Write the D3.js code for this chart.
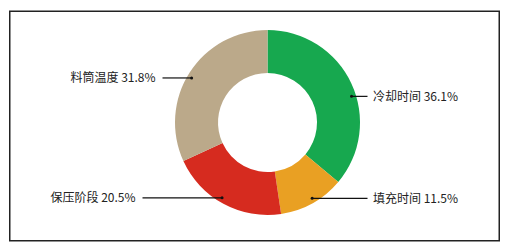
<!DOCTYPE html>
<html><head><meta charset="utf-8">
<script src="https://cdn.jsdelivr.net/npm/d3@7/dist/d3.min.js"></script>
<style>html,body{margin:0;padding:0;background:#fff;}svg{display:block;}</style>
</head><body>
<svg id="c" width="511" height="249"></svg>
<script>
const categories = ["冷却时间", "填充时间", "保压阶段", "料筒温度"];
const values = [36.1, 11.5, 20.5, 31.8];
const colors = ["#17a84f", "#e9a023", "#d62b1f", "#bba98a"];

const W = 511, H = 249;
const svg = d3.select("#c");
svg.append("rect").attr("x", 9.75).attr("y", 11.25).attr("width", 489.5).attr("height", 229.5)
  .attr("fill", "none").attr("stroke", "#222").attr("stroke-width", 1.5);

const cx = 267.5, cy = 122.5, rOuter = 92.5, rInner = 49.5, rDot = 88;
const g = svg.append("g").attr("transform", `translate(${cx},${cy})`);
const data = categories.map((c, i) => ({ name: c, value: values[i], color: colors[i] }));
const pie = d3.pie().value(d => d.value).sort(null);
const arcs = pie(data);
const arc = d3.arc().innerRadius(rInner).outerRadius(rOuter);
g.selectAll("path.s").data(arcs).join("path").attr("class", "s")
  .attr("d", arc).attr("fill", d => d.data.color);

// label layout tweaks (vertical nudge and leader length)
const yNudge = { "冷却时间": 11, "填充时间": -1, "保压阶段": -2, "料筒温度": 3 };
const leftTextGap = { "料筒温度": 112, "保压阶段": 132 };
arcs.forEach(a => {
  const mid = (a.startAngle + a.endAngle) / 2;
  let y = -Math.cos(mid) * rDot + yNudge[a.data.name];
  const right = Math.sin(mid) >= 0;
  const x = (right ? 1 : -1) * Math.sqrt(rDot * rDot - y * y);
  const lineEnd = right ? 100 : -(leftTextGap[a.data.name] - 7);
  g.append("line").attr("x1", x).attr("y1", y).attr("x2", lineEnd).attr("y2", y)
    .attr("stroke", "#111").attr("stroke-width", 1.2);
  g.append("circle").attr("cx", x).attr("cy", y).attr("r", 1.5).attr("fill", "#111");
  g.append("text")
    .attr("x", right ? 105.5 : -leftTextGap[a.data.name])
    .attr("y", y).attr("dy", "0.36em")
    .attr("text-anchor", right ? "start" : "end")
    .attr("font-family", "'Noto Sans CJK SC', 'Noto Sans', sans-serif")
    .attr("font-size", 12).attr("fill", "#222")
    .text(`${a.data.name} ${d3.format(".1f")(a.data.value)}%`);
});
</script>
</body></html>
